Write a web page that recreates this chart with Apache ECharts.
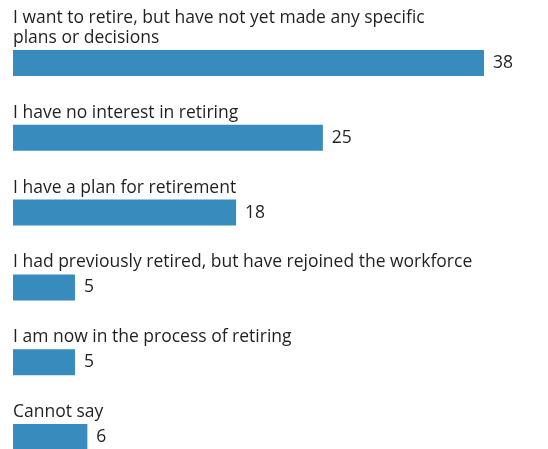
<!DOCTYPE html>
<html>
<head>
<meta charset="utf-8">
<style>
  html, body { margin: 0; padding: 0; background: #fff; }
  #chart { width: 548px; height: 449px; }
</style>
<script src="https://cdn.jsdelivr.net/npm/echarts@6/dist/echarts.min.js"></script>
</head>
<body>
<div id="chart"></div>
<script>
// Survey answers, top to bottom
var categories = [
    'I want to retire, but have not yet made any specific\nplans or decisions',
    'I have no interest in retiring',
    'I have a plan for retirement',
    'I had previously retired, but have rejoined the workforce',
    'I am now in the process of retiring',
    'Cannot say'
];
var values = [38, 25, 18, 5, 5, 6];

var FONT = '"Open Sans", sans-serif';
var TEXT = '#231f20';

var chart = echarts.init(document.getElementById('chart'), null, { renderer: 'canvas' });
chart.setOption({
    animation: false,
    // boundaryGap off: first/last category sit on the grid edges
    grid: { left: 13, right: 64, top: 63, bottom: 12, containLabel: false },
    xAxis: {
        type: 'value',
        min: 0,
        max: 38,
        show: false
    },
    yAxis: {
        type: 'category',
        data: categories,
        inverse: true,
        boundaryGap: false,
        axisLine: { show: false },
        axisTick: { show: false },
        splitLine: { show: false },
        axisLabel: {
            inside: true,
            interval: 0,
            margin: 0,
            align: 'left',
            verticalAlign: 'bottom',
            padding: [0, 0, 15, 0],
            lineHeight: 20,
            fontFamily: FONT,
            fontSize: 17.5,
            color: TEXT
        }
    },
    series: [{
        type: 'bar',
        data: values,
        barWidth: 26,
        itemStyle: { color: '#378bbd' },
        label: {
            show: true,
            position: 'right',
            distance: 9,
            fontFamily: FONT,
            fontSize: 17.5,
            color: TEXT
        }
    }]
});
</script>
</body>
</html>
